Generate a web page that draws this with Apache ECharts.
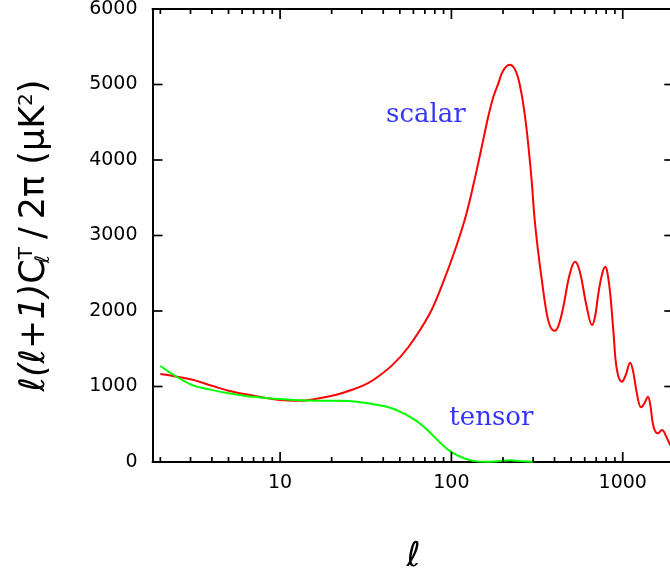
<!DOCTYPE html>
<html><head><meta charset="utf-8">
<script src="https://cdn.jsdelivr.net/npm/echarts@6/dist/echarts.min.js"></script>
<style>html,body{margin:0;padding:0;background:#fff}#c{width:670px;height:573px}</style>
</head><body><div id="c"></div>
<script>
// ---- data ----
const scalarL = [2,3,4,5,7,10,13,16,21,25,30,35,45,56,74.5,89,105,121,135,149,164,176,188,200,218,235,252,269,283,295,305,320,337,360,380,402,425,450,492,527,550,576,616,662,690,721,760,793,815,845,884,925,989,1040,1105,1150,1209,1281,1340,1403,1450,1513,1606,1695,1800,1896,2000];
const scalarV = [1166,1095,1010,944,878,822,812,834,887,940,1005,1086,1280,1520,1960,2367,2808,3249,3691,4132,4574,4840,5016,5180,5262,5200,4971,4574,4132,3691,3249,2808,2411,1969,1780,1739,1830,2057,2499,2653,2590,2411,2057,1815,1930,2234,2500,2587,2500,2234,1705,1219,1064,1150,1315,1200,910,724,780,865,750,468,380,424,330,225,170];
const tensorL = [2,3,4,5,6,7,8,10,13,17,22,28,35,44,55,62,69,77,86,96,107,120,134,160,190,220,250,300];
const tensorV = [1272,1029,955,910,882,864,852,833,818,812,810,797,765,718,622,548,468,365,255,160,93,45,15,2,12,22,14,4];
const xMajorTicks = [10,100,1000];
const xMinorTicks = [2,3,4,5,6,7,8,9,20,30,40,50,60,70,80,90,200,300,400,500,600,700,800,900];
const xTickLabels = ['10','100','1000'];
const yTicks = [1000,2000,3000,4000,5000];
const yMin = 0, yMax = 6000, yStep = 1000;
const xMin = 1.8, xMax = 2000;
const annotations = [
  {text:'scalar', l:71, v:4590},
  {text:'tensor', l:171, v:576}
];

const chart = echarts.init(document.getElementById('c'));
const axisLine = {show:true, onZero:false, lineStyle:{color:'#000', width:2}};
const tickFont = {fontFamily:'DejaVu Sans', fontSize:19, color:'#000'};
const tickStyle = {stroke:'#000', lineWidth:1.7};

function xTickSeries(values, len) {
  return {type:'custom', xAxisIndex:0, yAxisIndex:0, silent:true, clip:false, z:5,
    data:values.map(v=>[v, 1]),
    renderItem:(params, api) => {
      const cs = params.coordSys;
      const x = api.coord([api.value(0), 1])[0];
      const yb = cs.y + cs.height, yt = cs.y;
      return {type:'group', children:[
        {type:'line', shape:{x1:x, y1:yb, x2:x, y2:yb-len}, style:tickStyle},
        {type:'line', shape:{x1:x, y1:yt, x2:x, y2:yt+len}, style:tickStyle}
      ]};
    }};
}
function yTickSeries(values, len) {
  return {type:'custom', xAxisIndex:0, yAxisIndex:0, silent:true, clip:false, z:5,
    data:values.map(v=>[10, v]),
    renderItem:(params, api) => {
      const cs = params.coordSys;
      const y = api.coord([10, api.value(1)])[1];
      const xl = cs.x, xr = cs.x + cs.width;
      return {type:'group', children:[
        {type:'line', shape:{x1:xl, y1:y, x2:xl+len, y2:y}, style:tickStyle},
        {type:'line', shape:{x1:xr, y1:y, x2:xr-len, y2:y}, style:tickStyle}
      ]};
    }};
}

chart.setOption({
  animation:false,
  backgroundColor:'#fff',
  grid:{left:152.5, width:521.8, top:9, bottom:111, containLabel:false, outerBoundsMode:'none'},
  xAxis:[
    {type:'log', min:xMin, max:xMax, logBase:10, position:'bottom',
     axisLine, splitLine:{show:false}, axisTick:{show:false},
     axisLabel:Object.assign({show:true, margin:12, showMinLabel:false, showMaxLabel:false,
       formatter:v => { const s = String(Math.round(v)); return xTickLabels.indexOf(s) >= 0 ? s : ''; }}, tickFont),
     name:'ℓ', nameLocation:'middle', nameGap:78,
     nameTextStyle:{fontFamily:'DejaVu Sans', fontStyle:'italic', fontSize:34, color:'#000'}},
    {type:'log', min:xMin, max:xMax, logBase:10, position:'top',
     axisLine, splitLine:{show:false}, axisTick:{show:false}, axisLabel:{show:false}}
  ],
  yAxis:[
    {type:'value', min:yMin, max:yMax, interval:yStep, position:'left',
     axisLine, splitLine:{show:false}, axisTick:{show:false},
     axisLabel:Object.assign({margin:15, formatter:v => String(v)}, tickFont),
     name:'{it|ℓ(ℓ+1)}C{sub|ℓ}{sup|T}{sl|/}2π (μK{sup|2})',
     nameLocation:'middle', nameRotate:90, nameGap:99,
     nameTextStyle:{fontFamily:'DejaVu Sans', fontSize:35, color:'#000',
       rich:{
         it:{fontFamily:'DejaVu Sans', fontStyle:'italic', fontSize:35, color:'#000'},
         sl:{fontFamily:'DejaVu Sans', fontSize:35, color:'#000', padding:[0,8,0,8]},
         sub:{fontFamily:'DejaVu Sans', fontStyle:'italic', fontSize:20, color:'#000', padding:[17,0,0,0], width:0},
         sup:{fontFamily:'DejaVu Sans', fontSize:20, color:'#000', padding:[0,0,17,0]}
       }}},
    {type:'value', min:yMin, max:yMax, interval:yStep, position:'right',
     axisLine, splitLine:{show:false}, axisTick:{show:false}, axisLabel:{show:false}}
  ],
  series:[
    {type:'line', name:'scalar', xAxisIndex:0, yAxisIndex:0, showSymbol:false, smooth:0.4,
     lineStyle:{color:'#ff0000', width:2}, itemStyle:{color:'#ff0000'},
     data:scalarL.map((l,i)=>[l, scalarV[i]])},
    {type:'line', name:'tensor', xAxisIndex:0, yAxisIndex:0, showSymbol:false, smooth:0.4,
     lineStyle:{color:'#00ff00', width:2}, itemStyle:{color:'#00ff00'},
     data:tensorL.map((l,i)=>[l, tensorV[i]])},
    xTickSeries(xMinorTicks, 5),
    xTickSeries(xMajorTicks, 10),
    yTickSeries(yTicks, 10),
    {type:'scatter', xAxisIndex:0, yAxisIndex:0, silent:true, symbolSize:0,
     data:annotations.map(a=>({name:a.text, value:[a.l, a.v]})),
     label:{show:true, position:'inside', formatter:'{b}', color:'#0000ff',
       fontFamily:'DejaVu Serif', fontSize:26}}
  ]
});
</script></body></html>
